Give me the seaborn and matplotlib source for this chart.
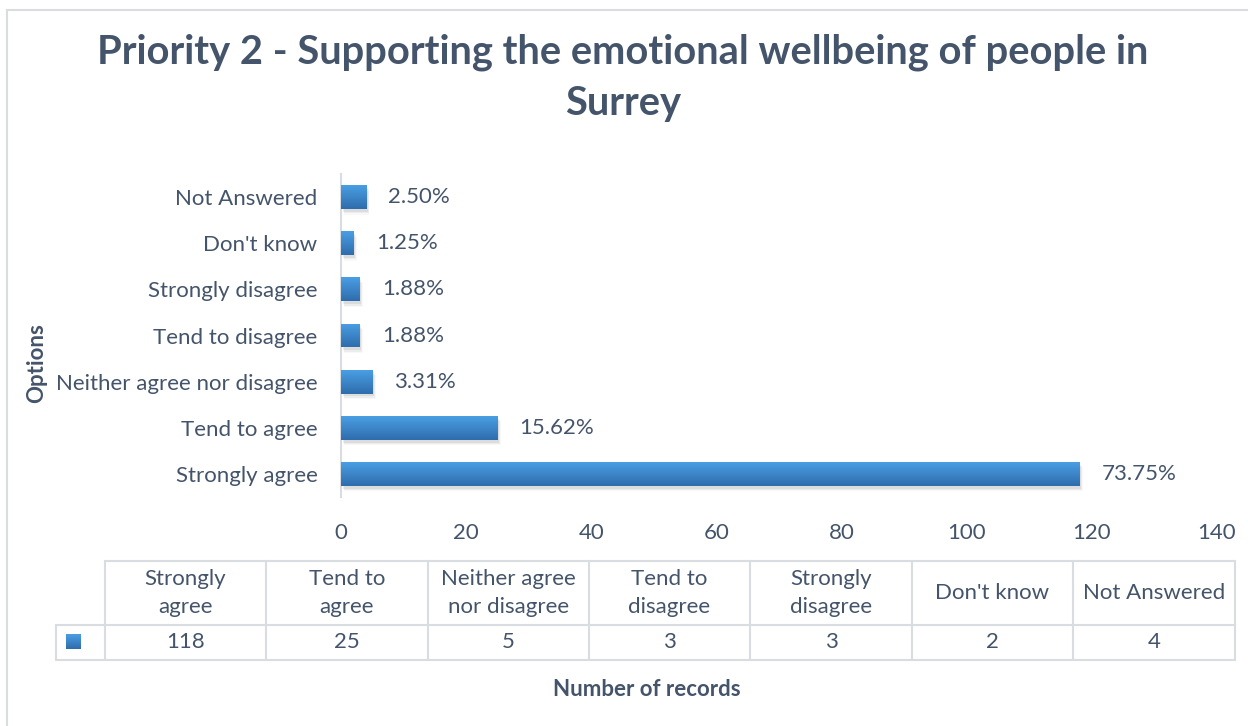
import numpy as np
import pandas as pd
import matplotlib
matplotlib.use("Agg")
import matplotlib.pyplot as plt
from matplotlib.lines import Line2D
from matplotlib.patches import Rectangle
from matplotlib.colors import LinearSegmentedColormap
import seaborn as sns

# Survey responses
categories = ["Strongly agree", "Tend to agree", "Neither agree nor disagree",
              "Tend to disagree", "Strongly disagree", "Don't know", "Not Answered"]
table_headers = ["Strongly\nagree", "Tend to\nagree", "Neither agree\nnor disagree",
                 "Tend to\ndisagree", "Strongly\ndisagree", "Don't know", "Not Answered"]
counts = [118, 25, 5, 3, 3, 2, 4]
pct_labels = ["73.75%", "15.62%", "3.31%", "1.88%", "1.88%", "1.25%", "2.50%"]
x_ticks = [0, 20, 40, 60, 80, 100, 120, 140]

TEXT = "#44546A"
GRID = "#D9DCE1"
W, H = 1248, 726
FS = 16

sns.set_theme(style="white")
plt.rcParams["font.family"] = ["Lato", "DejaVu Sans"]

fig = plt.figure(figsize=(W / 100, H / 100), dpi=100)
fig.patch.set_facecolor("white")


def fx(px):
    return px / W


def fy(py):
    return 1 - py / H


# outer frame of the chart area
fig.add_artist(Line2D([fx(7), fx(7)], [fy(10), fy(726)], color=GRID, lw=1.5))
fig.add_artist(Line2D([fx(7), fx(1248)], [fy(10), fy(10)], color=GRID, lw=1.5))

ax = fig.add_axes([fx(341), fy(497), fx(1217) - fx(341), fy(174) - fy(497)])

df = pd.DataFrame({"Options": categories, "Number of records": counts})
order = categories[::-1]
sns.barplot(data=df, x="Number of records", y="Options", order=order,
            orient="h", color="#3A85CC", width=0.52, ax=ax, zorder=3)

cmap = LinearSegmentedColormap.from_list("bar", ["#4A9EE4", "#2F6DAC"])
grad = np.linspace(0, 1, 64).reshape(-1, 1)
for p in list(ax.patches):
    x0, y0 = p.get_x(), p.get_y()
    w, h = p.get_width(), p.get_height()
    # soft shadow under each bar
    for k, a in enumerate([0.10, 0.07, 0.04]):
        ax.add_patch(Rectangle((x0 + 0.25 + 0.15 * k, y0 + 0.06 + 0.03 * k), w, h,
                               facecolor="#555555", edgecolor="none", alpha=a, zorder=2))
    p.set_facecolor("none")
    p.set_edgecolor("none")
    im = ax.imshow(grad, cmap=cmap, aspect="auto", extent=(x0, x0 + w, y0 + h, y0),
                   zorder=4, interpolation="bilinear")
    im.set_clip_path(p)

ax.set_xlim(0, 140)
ax.set_ylim(6.5, -0.5)
ax.set_xticks(x_ticks)
ax.set_xticklabels([str(t) for t in x_ticks])
ax.tick_params(axis="x", length=0, pad=19, labelsize=FS, labelcolor=TEXT)
ax.tick_params(axis="y", length=0, pad=17, labelsize=FS, labelcolor=TEXT)
ax.set_xlabel("")
ax.set_ylabel("")
for s in ["top", "right", "bottom"]:
    ax.spines[s].set_visible(False)
ax.spines["left"].set_color(GRID)
ax.spines["left"].set_linewidth(1.5)

# value labels beside each bar
for cat, c, lab in zip(categories, counts, pct_labels):
    yi = order.index(cat)
    ax.annotate(lab, (c, yi), xytext=(16, 0), textcoords="offset points",
                va="center", ha="left", fontsize=FS, color=TEXT, zorder=5)

# title
fig.text(fx(623), fy(52), "Priority 2 - Supporting the emotional wellbeing of people in",
         ha="center", va="center", fontsize=28.7, fontweight="bold", color=TEXT)
fig.text(fx(623), fy(104), "Surrey", ha="center", va="center",
         fontsize=28.7, fontweight="bold", color=TEXT)

# axis titles
fig.text(fx(37), fy(363), "Options", rotation=90, ha="center", va="center",
         fontsize=16, fontweight="bold", color=TEXT)
fig.text(fx(647), fy(689), "Number of records", ha="center", va="center",
         fontsize=16, fontweight="bold", color=TEXT)

# data table beneath the axis
col_edges = [105, 266, 428, 589, 750, 912, 1073, 1235]
row_top, row_mid, row_bot = 561, 625, 660
leg_left = 56
tbl_lw = 1.5
fig.add_artist(Line2D([fx(col_edges[0]), fx(col_edges[-1])], [fy(row_top)] * 2, color=GRID, lw=tbl_lw))
fig.add_artist(Line2D([fx(leg_left), fx(col_edges[-1])], [fy(row_mid)] * 2, color=GRID, lw=tbl_lw))
fig.add_artist(Line2D([fx(leg_left), fx(col_edges[-1])], [fy(row_bot)] * 2, color=GRID, lw=tbl_lw))
fig.add_artist(Line2D([fx(leg_left)] * 2, [fy(row_mid), fy(row_bot)], color=GRID, lw=tbl_lw))
for xe in col_edges:
    fig.add_artist(Line2D([fx(xe)] * 2, [fy(row_top), fy(row_bot)], color=GRID, lw=tbl_lw))
for i, (hdr, c) in enumerate(zip(table_headers, counts)):
    cx = (col_edges[i] + col_edges[i + 1]) / 2
    fig.text(fx(cx), fy((row_top + row_mid) / 2), hdr, ha="center", va="center",
             fontsize=FS, color=TEXT, linespacing=1.5)
    fig.text(fx(cx), fy((row_mid + row_bot) / 2), str(c), ha="center", va="center",
             fontsize=FS, color=TEXT)

# legend key in the table
kax = fig.add_axes([fx(66), fy(649), fx(81) - fx(66), fy(634) - fy(649)])
kax.imshow(grad, cmap=cmap, aspect="auto", interpolation="bilinear")
kax.axis("off")

fig.savefig("out.png", dpi=100, facecolor="white")
